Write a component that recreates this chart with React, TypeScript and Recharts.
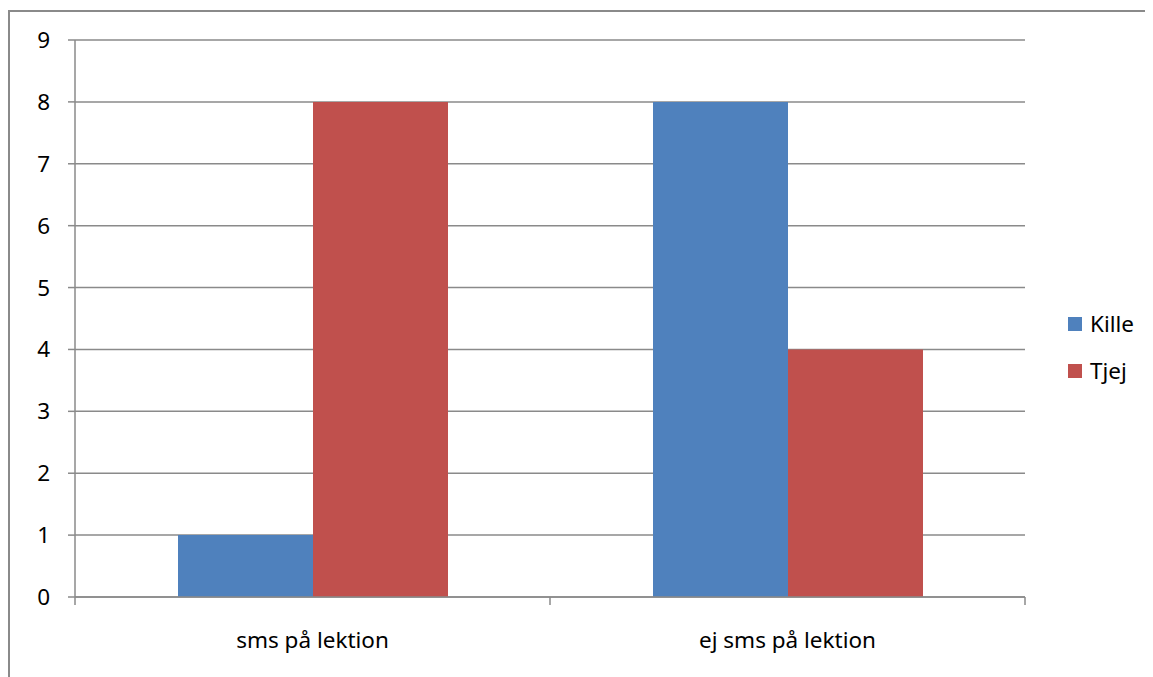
import React from "react";
import { BarChart, Bar, XAxis, YAxis, CartesianGrid, Legend } from "recharts";

const categories = ["sms på lektion", "ej sms på lektion"];
const kille = [1, 8];
const tjej = [8, 4];
const yTicks = [0, 1, 2, 3, 4, 5, 6, 7, 8, 9];

const data = categories.map((c, i) => ({ name: c, Kille: kille[i], Tjej: tjej[i] }));

const GRAY = "#8a8a8a";
const FONT = "'Noto Sans', 'Open Sans', sans-serif";
const FS = 22.5;
const X_TICK_MARGIN = 35;
const EDGE_TICK = 8;

const LegendContent = (props: any) => {
  const payload = props.payload || [];
  return (
    <div style={{ position: "relative", width: 90, height: 80, fontFamily: FONT, fontSize: FS, color: "#000" }}>
      {payload.map((p: any, i: number) => (
        <div key={i} style={{ position: "absolute", left: 0, top: i * 47, height: 26, display: "flex", alignItems: "center" }}>
          <div style={{ width: 14, height: 14, background: p.color, marginRight: 8 }} />
          <span style={{ lineHeight: "26px" }}>{p.value}</span>
        </div>
      ))}
    </div>
  );
};

const CategoryTick = (props: any) => {
  const { x, y, payload, index } = props;
  const half = payload && payload.offset ? payload.offset : 0;
  const axisY = y - X_TICK_MARGIN;
  return (
    <g>
      {half > 0 && index === 0 && (
        <line x1={x - half} x2={x - half} y1={axisY} y2={axisY + EDGE_TICK} stroke={GRAY} strokeWidth={1.5} />
      )}
      {half > 0 && (
        <line x1={x + half} x2={x + half} y1={axisY} y2={axisY + EDGE_TICK} stroke={GRAY} strokeWidth={1.5} />
      )}
      <text x={x} y={y} dy="0.71em" textAnchor="middle" fill="#000" fontSize={FS} fontFamily={FONT}>
        {payload.value}
      </text>
    </g>
  );
};

export default function App() {
  return (
    <div style={{ position: "relative", width: 1145, height: 669, background: "#fff" }}>
      <style>{`html, body { overflow: hidden; }`}</style>
      <div
        style={{
          position: "absolute",
          left: 0,
          top: 2,
          width: 1160,
          height: 680,
          borderTop: `2px solid ${GRAY}`,
          borderLeft: `2px solid ${GRAY}`,
          boxSizing: "border-box",
        }}
      />
      <div style={{ position: "absolute", left: 0, top: 0 }}>
        <BarChart
          width={1145}
          height={669}
          data={data}
          margin={{ top: 32, right: 38, bottom: 30, left: 27 }}
          barCategoryGap={103}
          barGap={0}
        >
          <CartesianGrid vertical={false} stroke={GRAY} strokeWidth={1.5} />
          <XAxis
            dataKey="name"
            height={50}
            stroke={GRAY}
            strokeWidth={1.5}
            tickLine={false}
            tickSize={0}
            tickMargin={X_TICK_MARGIN}
            tick={<CategoryTick />}
          />
          <YAxis
            width={40}
            domain={[0, 9]}
            ticks={yTicks}
            interval={0}
            tickSize={7}
            tickMargin={18}
            stroke={GRAY}
            strokeWidth={1.5}
            tick={{ fill: "#000", fontSize: FS, fontFamily: FONT }}
          />
          <Bar dataKey="Kille" fill="#4F81BD" isAnimationActive={false} />
          <Bar dataKey="Tjej" fill="#C0504D" isAnimationActive={false} />
          <Legend
            layout="vertical"
            align="right"
            verticalAlign="middle"
            content={<LegendContent />}
            wrapperStyle={{ position: "absolute", left: 1060, top: 303, width: 90, height: 80 }}
          />
        </BarChart>
      </div>
    </div>
  );
}
